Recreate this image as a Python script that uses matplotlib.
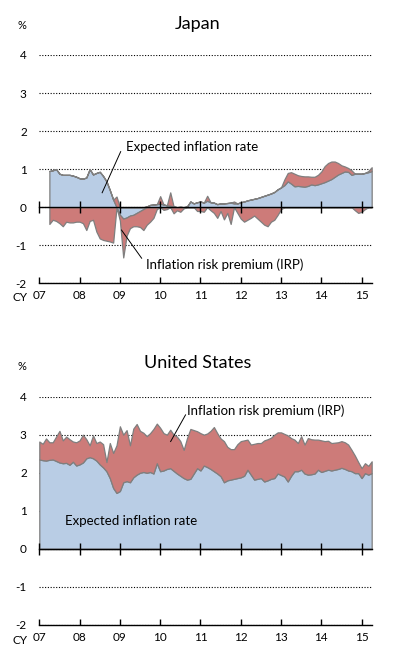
import numpy as np
import pandas as pd
import matplotlib
matplotlib.use('Agg')
import matplotlib.pyplot as plt

plt.rcParams['font.family'] = ['Lato', 'DejaVu Sans']

# --- data (monthly, % points) ---
years = list(range(2007, 2016))
year_labels = ['07', '08', '09', '10', '11', '12', '13', '14', '15']
y_ticks = [-2, -1, 0, 1, 2, 3, 4]

jp_months = pd.date_range('2007-04-01', periods=97, freq='MS')
jp_expected = [0.95, 0.97, 1.00, 0.88, 0.85, 0.85, 0.85, 0.83, 0.80,
               0.76, 0.75, 0.78, 1.00, 0.86, 0.90, 0.93, 0.82, 0.68, 0.45, 0.20, 0.00,
               -0.20, -0.30, -0.27, -0.22, -0.20, -0.15, -0.10, -0.05, 0.02, 0.06, 0.07, 0.08,
               0.09, 0.07, 0.05, 0.04, 0.02, 0.00, 0.01, 0.00, 0.02, 0.15, 0.10, 0.13,
               0.15, 0.12, 0.17, 0.13, 0.12, 0.08, 0.10, 0.10, 0.11, 0.12, 0.10, 0.10,
               0.13, 0.15, 0.18, 0.20, 0.22, 0.24, 0.27, 0.30, 0.33, 0.36, 0.40, 0.47,
               0.52, 0.58, 0.68, 0.62, 0.55, 0.56, 0.55, 0.54, 0.56, 0.60, 0.58, 0.60,
               0.63, 0.66, 0.70, 0.74, 0.80, 0.86, 0.90, 0.94, 0.93, 0.85, 0.88, 0.88,
               0.88, 0.90, 0.92, 0.95]
jp_irp = [-0.44, -0.33, -0.36, -0.42, -0.50, -0.38, -0.40, -0.40, -0.38,
          -0.38, -0.42, -0.60, -0.36, -0.33, -0.64, -0.82, -0.86, -0.88, -0.90, -0.93, 0.28,
          -0.15, -1.02, -0.48, -0.33, -0.30, -0.35, -0.42, -0.55, -0.46, -0.38, -0.28, -0.05,
          0.20, -0.07, -0.05, 0.35, -0.16, -0.08, -0.12, -0.03, 0.00, 0.00, 0.00, -0.10,
          -0.10, -0.12, 0.13, -0.08, -0.15, -0.28, -0.10, -0.32, -0.15, -0.44, 0.05, -0.15,
          -0.30, -0.38, -0.33, -0.28, -0.22, -0.30, -0.38, -0.46, -0.50, -0.38, -0.33, -0.20,
          -0.05, 0.15, 0.22, 0.30, 0.33, 0.28, 0.27, 0.27, 0.25, 0.20, 0.22, 0.25,
          0.31, 0.42, 0.46, 0.46, 0.40, 0.30, 0.20, 0.13, 0.10, 0.12, -0.08, -0.15,
          -0.12, -0.05, 0.03, 0.10]

us_months = pd.date_range('2007-01-01', periods=100, freq='MS')
us_expected = [2.35, 2.33, 2.32, 2.34, 2.35, 2.31, 2.27, 2.25, 2.26, 2.21, 2.29, 2.19,
               2.22, 2.27, 2.38, 2.41, 2.38, 2.32, 2.22, 2.14, 2.04, 1.86, 1.60, 1.47,
               1.52, 1.75, 1.78, 1.75, 1.88, 1.95, 2.00, 2.02, 2.00, 2.02, 1.98, 2.25,
               2.04, 2.06, 2.10, 2.12, 2.05, 1.98, 1.92, 1.86, 1.82, 1.84, 1.98, 2.12,
               2.06, 2.19, 2.15, 2.10, 2.04, 1.98, 1.91, 1.75, 1.80, 1.82, 1.84, 1.86,
               1.88, 1.92, 2.08, 1.95, 1.82, 1.84, 1.86, 1.77, 1.80, 1.84, 1.86, 1.98,
               1.94, 1.90, 1.77, 1.92, 2.04, 2.04, 2.08, 1.98, 1.95, 1.96, 1.98, 2.08,
               2.02, 2.05, 2.08, 2.06, 2.08, 2.10, 2.13, 2.10, 2.06, 2.04, 1.99, 1.99,
               1.86, 1.99, 1.95, 1.99]
us_irp = [0.47, 0.43, 0.58, 0.46, 0.45, 0.64, 0.83, 0.60, 0.69, 0.67, 0.53, 0.61,
          0.63, 0.73, 0.50, 0.31, 0.60, 0.46, 0.60, 0.61, 0.24, 0.92, 0.92, 1.25,
          1.70, 1.25, 1.34, 0.97, 1.28, 1.33, 1.10, 1.03, 0.96, 1.02, 1.17, 1.04,
          1.14, 0.98, 0.90, 1.01, 0.95, 0.97, 0.91, 0.74, 1.09, 1.31, 1.14, 0.97,
          0.98, 0.81, 0.88, 1.00, 1.16, 1.06, 0.99, 1.08, 0.88, 0.80, 0.78, 0.89,
          0.95, 0.93, 0.79, 0.79, 0.94, 0.94, 0.92, 1.08, 1.08, 1.08, 1.14, 1.08,
          1.12, 1.12, 1.21, 0.99, 0.83, 0.74, 0.88, 0.76, 0.96, 0.92, 0.89, 0.79,
          0.83, 0.78, 0.76, 0.72, 0.71, 0.70, 0.70, 0.70, 0.68, 0.56, 0.46, 0.29,
          0.26, 0.26, 0.23, 0.31]

BLUE = '#b9cde5'
RED = '#cd7b79'
EDGE = '#7f7f7f'


def to_years(months):
    return np.asarray(months.year + (months.month - 1) / 12.0)


def draw_stack(ax, t, expected, irp):
    e = np.asarray(expected)
    p = np.asarray(irp)
    # expected rate from zero, premium stacked away from zero by sign
    ax.fill_between(t, 0, e, facecolor=BLUE, edgecolor=EDGE, lw=0.9, zorder=2)
    pos_base = np.maximum(e, 0)
    neg_base = np.minimum(e, 0)
    ax.fill_between(t, pos_base, pos_base + np.maximum(p, 0),
                    facecolor=RED, edgecolor=EDGE, lw=0.9, zorder=3)
    ax.fill_between(t, neg_base, neg_base + np.minimum(p, 0),
                    facecolor=RED, edgecolor=EDGE, lw=0.9, zorder=3)


def style_axes(ax):
    ax.set_xlim(2007, 2015.25)
    ax.set_ylim(-2, 4)
    ax.set_yticks(y_ticks)
    ax.set_yticklabels([str(v) for v in y_ticks], fontsize=8.5)
    ax.set_xticks(years)
    ax.set_xticklabels(year_labels, fontsize=8.5)
    ax.tick_params(axis='y', length=0, pad=9)
    ax.tick_params(axis='x', direction='in', length=4, width=1, pad=5)
    for s in ('left', 'right', 'top'):
        ax.spines[s].set_visible(False)
    ax.spines['bottom'].set_linewidth(1)
    ax.set_axisbelow(True)
    ax.yaxis.grid(True, linestyle=(0, (1, 1.5)), color='black', lw=0.8)
    # zero line with crossing ticks
    sec = ax.secondary_xaxis(1 / 3)
    sec.set_xticks(years)
    sec.tick_params(direction='inout', length=8, width=1,
                    labelbottom=False, labeltop=False)
    sec.spines['bottom'].set_linewidth(1)
    sec.spines['top'].set_linewidth(1)
    sec.set_zorder(5)


fig = plt.figure(figsize=(3.99, 6.62), dpi=100)

ax_jp = fig.add_axes([0.0985, 0.572, 0.833, 0.345])
draw_stack(ax_jp, to_years(jp_months), jp_expected, jp_irp)
style_axes(ax_jp)
ax_jp.text(2009.15, 1.59, 'Expected inflation rate', fontsize=9.5, va='center', ha='left')
ax_jp.plot([2009.02, 2008.56], [1.46, 0.38], color='black', lw=0.7, zorder=6)
ax_jp.text(2009.64, -1.52, 'Inflation risk premium (IRP)', fontsize=9.5, va='center', ha='left')
ax_jp.plot([2009.54, 2009.04], [-1.34, -0.60], color='black', lw=0.7, zorder=6)

ax_us = fig.add_axes([0.0985, 0.0559, 0.833, 0.345])
draw_stack(ax_us, to_years(us_months), us_expected, us_irp)
style_axes(ax_us)
ax_us.text(2010.66, 3.63, 'Inflation risk premium (IRP)', fontsize=9.5, va='center', ha='left')
ax_us.plot([2010.63, 2010.26], [3.52, 2.82], color='black', lw=0.7, zorder=6)
ax_us.text(2007.64, 0.74, 'Expected inflation rate', fontsize=9.5, va='center', ha='left')

fig.text(0.494, 0.964, 'Japan', fontsize=13, ha='center', va='center')
fig.text(0.496, 0.452, 'United States', fontsize=13, ha='center', va='center')
fig.text(0.055, 0.962, '%', fontsize=8, ha='center', va='center')
fig.text(0.055, 0.446, '%', fontsize=8, ha='center', va='center')
fig.text(0.050, 0.550, 'CY', fontsize=8.5, ha='center', va='center')
fig.text(0.050, 0.033, 'CY', fontsize=8.5, ha='center', va='center')

fig.savefig('out.png', dpi=100)
